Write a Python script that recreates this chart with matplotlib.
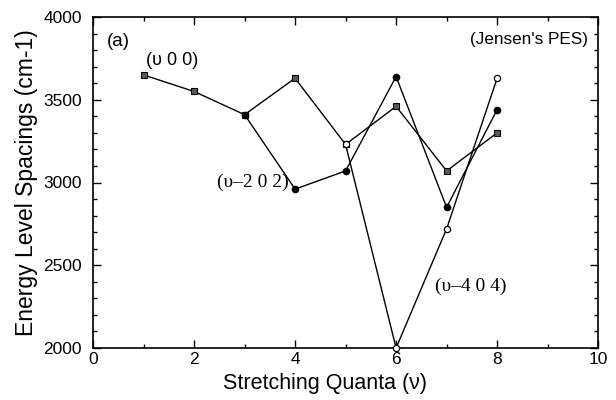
import matplotlib
matplotlib.use("Agg")
import matplotlib.pyplot as plt
from matplotlib.ticker import MultipleLocator

plt.rcParams['font.family'] = ['Liberation Sans', 'DejaVu Sans']

# Stretching quanta and energy level spacings (cm-1) for each progression
v_00 = [1, 2, 3, 4, 5, 6, 7, 8]
e_00 = [3650, 3550, 3410, 3630, 3230, 3460, 3070, 3300]

v_202 = [3, 4, 5, 6, 7, 8]
e_202 = [3410, 2960, 3070, 3640, 2850, 3440]

v_404 = [5, 6, 7, 8]
e_404 = [3230, 2000, 2720, 3630]

fig = plt.figure(figsize=(6.16, 4.0), dpi=100)
ax = fig.add_axes([0.151, 0.13, 0.82, 0.8275])

ax.plot(v_00, e_00, color='black', lw=1.0, marker='s', ms=4.0,
        mfc='0.35', mec='black', mew=0.8, zorder=3)
ax.plot(v_202, e_202, color='black', lw=1.0, marker='o', ms=4.5,
        mfc='black', mec='black', zorder=4)
ax.plot(v_404, e_404, color='black', lw=1.0, marker='o', ms=4.5,
        mfc='white', mec='black', mew=0.9, zorder=5, clip_on=False)

ax.set_xlim(0, 10)
ax.set_ylim(2000, 4000)
ax.xaxis.set_major_locator(MultipleLocator(2))
ax.xaxis.set_minor_locator(MultipleLocator(1))
ax.yaxis.set_major_locator(MultipleLocator(500))
ax.yaxis.set_minor_locator(MultipleLocator(100))
ax.tick_params(which='both', direction='in', top=True, right=True,
               labelsize=12.5, width=1.0)
ax.tick_params(which='major', length=6)
ax.tick_params(which='minor', length=3)
ax.tick_params(axis='y', pad=8)
ax.tick_params(axis='x', pad=3)
for s in ax.spines.values():
    s.set_linewidth(1.2)

ax.set_xlabel('Stretching Quanta (ν)', fontsize=15.5, labelpad=2)
ax.xaxis.set_label_coords(0.46, -0.075)
ax.set_ylabel('Energy Level Spacings (cm-1)', fontsize=16.5, labelpad=4)

ax.text(0.28, 3850, '(a)', fontsize=13.5, va='center', ha='left')
ax.text(9.8, 3865, "(Jensen's PES)", fontsize=12.3, va='center', ha='right')
ax.text(1.04, 3735, '(υ 0 0)', fontsize=13, va='center', ha='left')
ax.text(3.88, 3000, '(υ–2 0 2)', fontsize=14, va='center', ha='right',
        family=['Liberation Serif', 'DejaVu Serif'])
ax.text(6.78, 2375, '(υ–4 0 4)', fontsize=14, va='center', ha='left',
        family=['Liberation Serif', 'DejaVu Serif'])

fig.savefig('out.png', dpi=100)
